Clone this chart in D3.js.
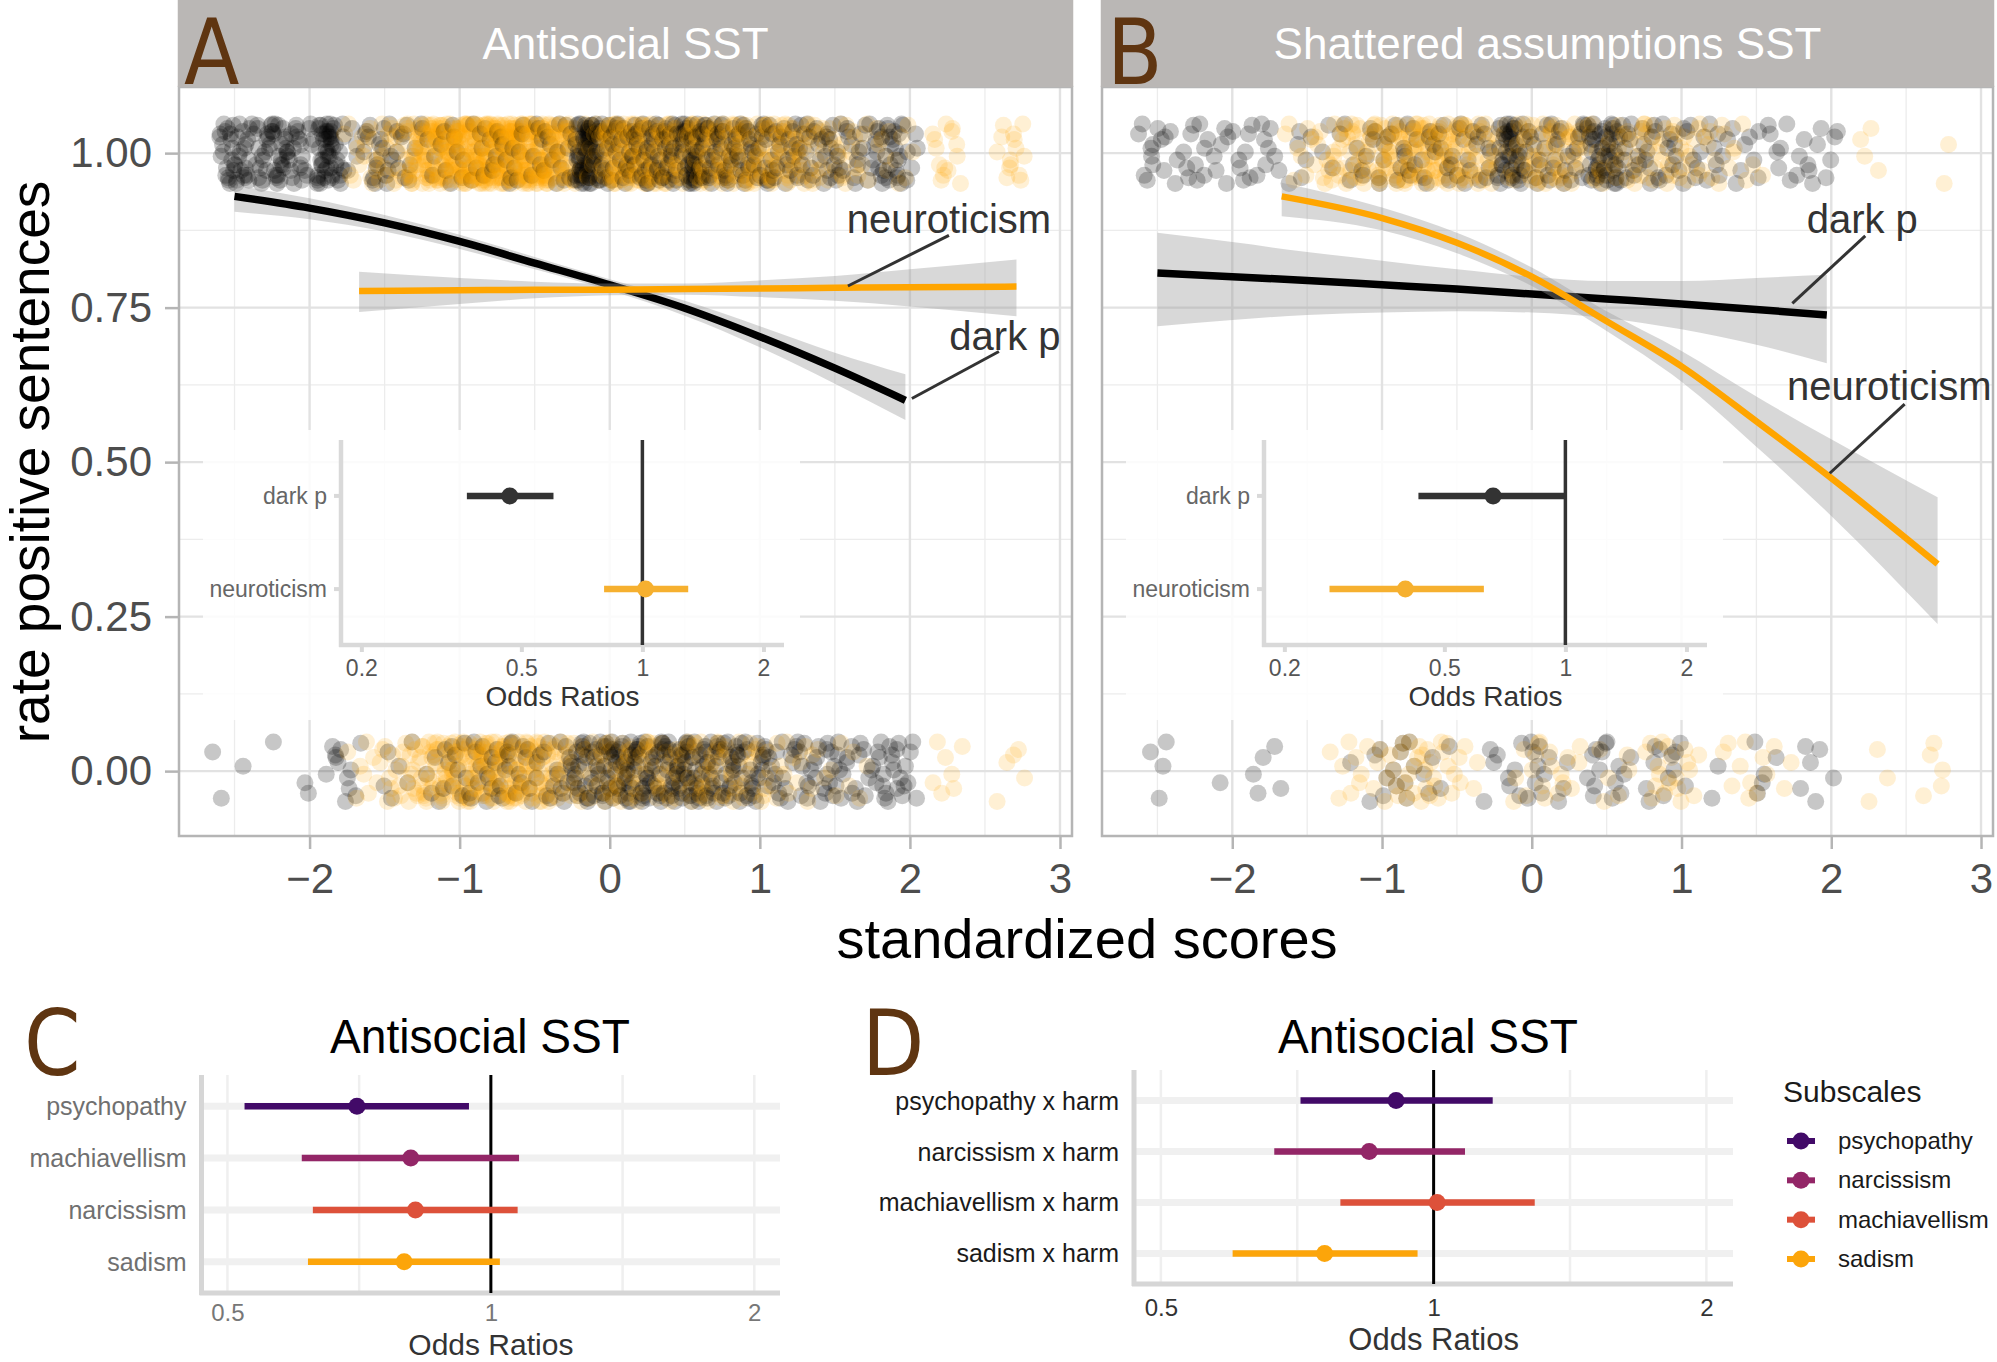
<!DOCTYPE html>
<html>
<head>
<meta charset="utf-8">
<script src="https://cdn.jsdelivr.net/npm/d3@7"></script>
<style>
  body { margin: 0; background: #fff; }
  svg { display: block; }
</style>
</head>
<body>
<script>
// ---- data ----
const panelTitles = ["Antisocial SST", "Shattered assumptions SST"];
const xTicks = [-2, -1, 0, 1, 2, 3];
const yTicks = [0, 0.25, 0.5, 0.75, 1];

// jittered responses, counted per 0.1 wide bin of the standardized score: [x, count]
const aDarkTop = [[-2.55,20],[-2.45,16],[-2.38,8],[-2.3,16],[-2.2,22],[-2.1,16],[-2.02,8],[-1.9,35],[-1.82,18],[-1.7,4],[-1.6,10],[-1.5,10],[-1.4,8],[-1.3,4],[-1.2,4],[-1.1,4],[-1.0,5],[-0.9,5],[-0.8,6],[-0.7,6],[-0.6,6],[-0.5,6],[-0.4,6],[-0.3,8],[-0.18,45],[-0.1,35],[0.0,14],[0.1,16],[0.2,18],[0.3,20],[0.4,22],[0.52,30],[0.6,26],[0.7,18],[0.8,16],[0.9,16],[1.0,14],[1.1,12],[1.2,12],[1.3,10],[1.4,10],[1.5,12],[1.6,8],[1.7,8],[1.8,14],[1.9,16],[2.0,6]];
const aNeuroTop = [[-1.72,6],[-1.6,10],[-1.5,12],[-1.4,12],[-1.3,30],[-1.2,40],[-1.1,45],[-1.0,50],[-0.9,50],[-0.8,55],[-0.7,55],[-0.6,55],[-0.5,50],[-0.4,45],[-0.3,36],[-0.2,12],[-0.1,12],[0.0,40],[0.1,40],[0.2,38],[0.3,32],[0.4,30],[0.5,22],[0.6,28],[0.7,28],[0.8,28],[0.9,26],[1.0,25],[1.1,25],[1.2,22],[1.3,18],[1.4,12],[1.5,10],[1.6,8],[1.7,6],[1.8,5],[1.9,4],[2.0,3],[2.2,8],[2.3,6],[2.62,6],[2.72,8]];
const aDarkBottom = [[-2.6,2],[-2.48,1],[-2.22,1],[-2.08,1],[-2.0,1],[-1.85,3],[-1.78,6],[-1.7,3],[-1.5,2],[-1.42,2],[-1.3,2],[-1.2,3],[-1.1,5],[-1.0,6],[-0.9,6],[-0.8,8],[-0.7,8],[-0.6,6],[-0.5,6],[-0.4,6],[-0.3,10],[-0.2,18],[-0.1,16],[0.0,20],[0.1,22],[0.2,20],[0.3,18],[0.4,20],[0.5,24],[0.6,18],[0.7,16],[0.8,16],[0.9,14],[1.0,12],[1.1,9],[1.2,7],[1.3,9],[1.4,9],[1.5,10],[1.6,7],[1.7,6],[1.8,9],[1.9,10],[2.0,6]];
const aNeuroBottom = [[-1.7,3],[-1.6,5],[-1.5,6],[-1.4,8],[-1.3,14],[-1.2,18],[-1.1,22],[-1.0,25],[-0.9,28],[-0.8,28],[-0.7,30],[-0.6,28],[-0.5,25],[-0.4,20],[-0.3,14],[-0.2,10],[-0.1,10],[0.0,16],[0.1,16],[0.2,14],[0.3,12],[0.4,12],[0.5,12],[0.6,14],[0.7,14],[0.8,12],[0.9,10],[1.0,8],[1.1,6],[1.2,5],[1.3,4],[1.4,3],[1.5,3],[1.6,2],[1.7,2],[2.2,4],[2.3,3],[2.62,2],[2.72,3]];
const bDarkTop = [[-2.58,6],[-2.5,5],[-2.4,4],[-2.3,5],[-2.2,6],[-2.1,4],[-2.0,4],[-1.9,6],[-1.8,5],[-1.7,3],[-1.6,3],[-1.5,3],[-1.4,2],[-1.3,2],[-1.2,4],[-1.1,5],[-1.0,6],[-0.9,6],[-0.8,7],[-0.7,6],[-0.6,6],[-0.5,6],[-0.4,6],[-0.3,7],[-0.18,24],[-0.1,20],[0.0,8],[0.1,8],[0.2,8],[0.3,9],[0.42,22],[0.52,24],[0.6,10],[0.7,8],[0.8,8],[0.9,7],[1.0,6],[1.1,6],[1.2,5],[1.3,4],[1.4,3],[1.5,4],[1.6,4],[1.7,3],[1.8,4],[1.9,4],[2.0,4]];
const bNeuroTop = [[-1.6,4],[-1.5,5],[-1.4,7],[-1.3,12],[-1.2,15],[-1.1,15],[-1.0,18],[-0.9,21],[-0.8,24],[-0.7,24],[-0.6,24],[-0.5,21],[-0.4,18],[-0.3,15],[-0.2,6],[-0.1,10],[0.0,16],[0.1,16],[0.2,16],[0.3,13],[0.4,8],[0.5,8],[0.6,10],[0.7,10],[0.8,10],[0.9,10],[1.0,8],[1.1,7],[1.2,6],[1.3,4],[1.4,3],[1.5,2],[2.2,2],[2.3,2],[2.8,2]];
const bDarkBottom = [[-2.5,3],[-2.42,1],[-2.13,1],[-1.82,3],[-1.72,2],[-1.18,1],[-1.1,1],[-1.0,4],[-0.9,4],[-0.8,4],[-0.7,3],[-0.6,2],[-0.28,3],[-0.2,2],[-0.1,4],[0.0,5],[0.1,4],[0.2,3],[0.38,3],[0.45,5],[0.55,4],[0.62,3],[0.8,4],[0.9,5],[1.0,3],[1.2,2],[1.52,3],[1.6,2],[1.82,3],[1.9,2],[2.05,1]];
const bNeuroBottom = [[-1.3,3],[-1.2,4],[-1.1,3],[-1.0,4],[-0.9,6],[-0.8,8],[-0.7,8],[-0.6,6],[-0.5,4],[-0.4,3],[-0.1,3],[0.0,4],[0.1,5],[0.2,4],[0.3,3],[0.5,3],[0.6,3],[0.8,5],[0.9,6],[1.0,5],[1.1,3],[1.3,3],[1.4,3],[1.5,3],[1.6,2],[1.7,2],[2.3,2],[2.4,1],[2.62,2],[2.72,3]];

// fixed jitter offsets (x in score units, y in rate units)
const jitterX = [-0.046,0.012,0.037,-0.021,0.049,-0.008,0.026,-0.039,0.003,0.044,-0.030,0.019,-0.013,0.032,-0.048,0.008,-0.025,0.041,-0.004,0.023,-0.035,0.015,-0.017];
const jitterY = [0.031,-0.044,0.008,0.047,-0.019,-0.036,0.022,-0.005,0.040,-0.028,0.014,-0.049,0.035,-0.011,0.026,-0.040,0.002,0.045,-0.024];

// logistic fits: [x, fit, lower, upper]
const aDarkFit = [[-2.5,0.930,0.905,0.948],[-2.0,0.911,0.893,0.927],[-1.5,0.887,0.873,0.900],[-1.0,0.857,0.845,0.868],[-0.5,0.822,0.812,0.832],[0.0,0.787,0.778,0.796],[0.5,0.749,0.737,0.761],[1.0,0.703,0.686,0.720],[1.5,0.652,0.627,0.677],[1.97,0.600,0.568,0.642]];
const aNeuroFit = [[-1.67,0.777,0.743,0.808],[-1.0,0.778,0.756,0.798],[-0.5,0.779,0.765,0.792],[0.0,0.779,0.770,0.789],[0.5,0.780,0.771,0.789],[1.0,0.781,0.767,0.794],[1.5,0.782,0.761,0.801],[2.0,0.783,0.752,0.812],[2.71,0.784,0.736,0.828]];
const bDarkFit = [[-2.5,0.806,0.720,0.871],[-2.0,0.800,0.730,0.856],[-1.5,0.794,0.738,0.840],[-1.0,0.787,0.742,0.826],[-0.5,0.780,0.744,0.812],[0.0,0.772,0.742,0.800],[0.5,0.764,0.733,0.793],[1.0,0.756,0.715,0.793],[1.5,0.747,0.690,0.798],[1.97,0.738,0.660,0.803]];
const bNeuroFit = [[-1.67,0.930,0.898,0.952],[-1.0,0.895,0.875,0.912],[-0.5,0.855,0.838,0.871],[0.0,0.800,0.785,0.815],[0.5,0.728,0.712,0.744],[1.0,0.655,0.630,0.680],[1.5,0.566,0.525,0.606],[2.0,0.474,0.413,0.537],[2.71,0.335,0.238,0.443]];

// direct labels: text anchor and leader segment, in data units
const aLabels = [
  {text: "neuroticism", x: 2.26, y: 0.870, from: [2.26, 0.867], to: [1.587, 0.785]},
  {text: "dark p", x: 2.633, y: 0.681, from: [2.593, 0.679], to: [2.013, 0.603]}
];
const bLabels = [
  {text: "dark p", x: 2.207, y: 0.870, from: [2.227, 0.866], to: [1.74, 0.757]},
  {text: "neuroticism", x: 2.387, y: 0.600, from: [2.49, 0.594], to: [1.99, 0.482]}
];

// inset odds ratios
const insetTerms = ["dark p", "neuroticism"];
const aInsetOR = [0.468, 1.018];
const aInsetLow = [0.366, 0.803];
const aInsetHigh = [0.601, 1.30];
const bInsetOR = [0.661, 0.400];
const bInsetLow = [0.431, 0.259];
const bInsetHigh = [0.995, 0.627];
const orTicks = [0.2, 0.5, 1, 2];

// subscale odds ratios
const cTerms = ["psychopathy", "machiavellism", "narcissism", "sadism"];
const cOR = [0.703, 0.810, 0.820, 0.796];
const cLow = [0.523, 0.608, 0.626, 0.618];
const cHigh = [0.944, 1.077, 1.073, 1.024];
const dTerms = ["psychopathy x harm", "narcissism x harm", "machiavellism x harm", "sadism x harm"];
const dOR = [0.909, 0.849, 1.009, 0.758];
const dLow = [0.713, 0.667, 0.789, 0.600];
const dHigh = [1.162, 1.083, 1.293, 0.960];
const subscales = ["psychopathy", "narcissism", "machiavellism", "sadism"];
const rowColors = ["#420A68", "#932667", "#DD513A", "#FCA50A"];
const subTicks = [0.5, 1, 2];

// ---- drawing ----
const brown = "#5f3511";
const letterFont = "'DejaVu Sans Condensed', 'DejaVu Sans', sans-serif";
const svg = d3.select("body").append("svg")
  .attr("width", 1997).attr("height", 1362)
  .style("font-family", "'Liberation Sans', Arial, sans-serif");

function expand(bins, base, col) {
  let pts = [], k = 0;
  bins.forEach(([cx, n]) => {
    for (let i = 0; i < n; i++, k++) {
      pts.push({x: cx + jitterX[k % jitterX.length], y: base + jitterY[k % jitterY.length], col: col});
    }
  });
  return pts;
}

function topPanel(p) {
  let g = svg.append("g");
  let x = d3.scaleLinear().domain([-2.87, 3.08]).range([p.left, p.right]);
  let y = d3.scaleLinear().domain([-0.105, 1.107]).range([836, 87]);

  // grid
  g.selectAll(null).data(d3.range(-2.5, 3, 1)).join("line")
    .attr("x1", d => x(d)).attr("x2", d => x(d)).attr("y1", 87).attr("y2", 836)
    .attr("stroke", "#ececec").attr("stroke-width", 1.3);
  g.selectAll(null).data(d3.range(0.125, 1, 0.25)).join("line")
    .attr("x1", p.left).attr("x2", p.right).attr("y1", d => y(d)).attr("y2", d => y(d))
    .attr("stroke", "#ececec").attr("stroke-width", 1.3);
  g.selectAll(null).data(xTicks).join("line")
    .attr("x1", d => x(d)).attr("x2", d => x(d)).attr("y1", 87).attr("y2", 836)
    .attr("stroke", "#e2e2e2").attr("stroke-width", 2.4);
  g.selectAll(null).data(yTicks).join("line")
    .attr("x1", p.left).attr("x2", p.right).attr("y1", d => y(d)).attr("y2", d => y(d))
    .attr("stroke", "#e2e2e2").attr("stroke-width", 2.4);

  // jittered points, both traits mixed and drawn left to right
  let pts = expand(p.darkTop, 1, "dark").concat(expand(p.darkBottom, 0, "dark"),
    expand(p.neuroTop, 1, "neuro"), expand(p.neuroBottom, 0, "neuro"))
    .sort((a, b) => a.x - b.x);
  g.selectAll(null).data(pts).join("circle")
    .attr("cx", d => x(d.x)).attr("cy", d => y(d.y)).attr("r", 8.5)
    .attr("fill", d => d.col === "dark" ? "#000" : "#FFA500")
    .attr("fill-opacity", d => d.col === "dark" ? 0.22 : 0.17);

  // fits with confidence bands
  let area = d3.area().curve(d3.curveMonotoneX)
    .x(d => x(d[0])).y0(d => y(d[2])).y1(d => y(d[3]));
  let line = d3.line().curve(d3.curveMonotoneX)
    .x(d => x(d[0])).y(d => y(d[1]));
  [[p.darkFit, "#000", 7.5], [p.neuroFit, "#FFA500", 6.5]].forEach(([fit, col, w]) => {
    g.append("path").datum(fit).attr("d", area)
      .attr("fill", "#999").attr("fill-opacity", 0.38);
    g.append("path").datum(fit).attr("d", line)
      .attr("fill", "none").attr("stroke", col).attr("stroke-width", w);
  });

  // direct labels
  p.labels.forEach(l => {
    g.append("line")
      .attr("x1", x(l.from[0])).attr("y1", y(l.from[1]))
      .attr("x2", x(l.to[0])).attr("y2", y(l.to[1]))
      .attr("stroke", "#333").attr("stroke-width", 3);
    g.append("text").attr("x", x(l.x)).attr("y", y(l.y))
      .attr("text-anchor", "middle").attr("font-size", 40).attr("fill", "#333")
      .text(l.text);
  });

  inset(g, p);

  // border and strip
  g.append("rect").attr("x", p.left).attr("y", 87)
    .attr("width", p.right - p.left).attr("height", 836 - 87)
    .attr("fill", "none").attr("stroke", "#b5b5b5").attr("stroke-width", 2.5);
  g.append("rect").attr("x", p.left - 1.25).attr("y", 0)
    .attr("width", p.right - p.left + 2.5).attr("height", 87)
    .attr("fill", "#bab7b5");
  g.append("text").attr("x", (p.left + p.right) / 2).attr("y", 59)
    .attr("text-anchor", "middle").attr("font-size", 44).attr("fill", "#fff")
    .text(p.title);
  g.append("text").attr("x", p.left + 5).attr("y", 84)
    .attr("font-family", letterFont).attr("font-stretch", "condensed")
    .attr("font-size", 90).attr("fill", brown).text(p.letter);

  // axes (only the left panel carries the y axis)
  let xa = g.append("g").attr("transform", "translate(0,836)")
    .call(d3.axisBottom(x).tickValues(xTicks).tickFormat(d3.format("d"))
      .tickSize(13).tickPadding(14));
  let axes = [xa];
  if (p.showY) {
    axes.push(g.append("g").attr("transform", `translate(${p.left},0)`)
      .call(d3.axisLeft(y).tickValues(yTicks).tickFormat(d3.format(".2f"))
        .tickSize(14).tickPadding(13)));
  }
  axes.forEach(a => {
    a.select(".domain").remove();
    a.selectAll("line").attr("stroke", "#b5b5b5").attr("stroke-width", 2.5);
    a.selectAll("text").attr("font-size", 42).attr("fill", "#4d4d4d")
      .attr("font-family", "'Liberation Sans', Arial, sans-serif");
  });
}

function inset(g, p) {
  let ax = p.left + 162;
  let ix = d3.scaleLog().domain([0.178, 2.25]).range([ax, ax + 443]);
  let iy = d3.scalePoint().domain(insetTerms).range([440, 645]).padding(0.6);
  let h = g.append("g");
  h.append("rect").attr("x", p.left + 24).attr("y", 430).attr("width", 597).attr("height", 290)
    .attr("fill", "#fff").attr("fill-opacity", 0.85);
  h.append("line").attr("x1", ax).attr("x2", ax).attr("y1", 440).attr("y2", 647)
    .attr("stroke", "#d9d9d9").attr("stroke-width", 4.5);
  h.append("line").attr("x1", ax - 2).attr("x2", ax + 443).attr("y1", 645).attr("y2", 645)
    .attr("stroke", "#d9d9d9").attr("stroke-width", 4.5);
  h.selectAll(null).data(insetTerms).join("line")
    .attr("x1", ax - 7).attr("x2", ax).attr("y1", d => iy(d)).attr("y2", d => iy(d))
    .attr("stroke", "#d9d9d9").attr("stroke-width", 4);
  h.selectAll(null).data(insetTerms).join("text")
    .attr("x", ax - 14).attr("y", d => iy(d) + 8).attr("text-anchor", "end")
    .attr("font-size", 23).attr("fill", "#666").text(d => d);
  let xa = h.append("g").attr("transform", "translate(0,645)")
    .call(d3.axisBottom(ix).tickValues(orTicks).tickFormat(d => String(d))
      .tickSize(7).tickPadding(8));
  xa.select(".domain").remove();
  xa.selectAll("line").attr("stroke", "#d9d9d9").attr("stroke-width", 4);
  xa.selectAll("text").attr("font-size", 23).attr("fill", "#555")
    .attr("font-family", "'Liberation Sans', Arial, sans-serif");
  h.append("text").attr("x", (ax + ax + 443) / 2).attr("y", 706)
    .attr("text-anchor", "middle").attr("font-size", 28).attr("fill", "#333")
    .text("Odds Ratios");
  h.append("line").attr("x1", ix(1)).attr("x2", ix(1)).attr("y1", 440).attr("y2", 645)
    .attr("stroke", "#333").attr("stroke-width", 3.5);
  let cols = ["#333333", "#F6B02F"];
  insetTerms.forEach((t, i) => {
    h.append("line").attr("x1", ix(p.insetLow[i])).attr("x2", ix(p.insetHigh[i]))
      .attr("y1", iy(t)).attr("y2", iy(t))
      .attr("stroke", cols[i]).attr("stroke-width", 6.5);
    h.append("circle").attr("cx", ix(p.insetOR[i])).attr("cy", iy(t)).attr("r", 8.5)
      .attr("fill", cols[i]);
  });
}

topPanel({letter: "A", title: panelTitles[0], left: 179, right: 1072, showY: true,
  darkTop: aDarkTop, darkBottom: aDarkBottom, neuroTop: aNeuroTop, neuroBottom: aNeuroBottom,
  darkFit: aDarkFit, neuroFit: aNeuroFit, labels: aLabels,
  insetOR: aInsetOR, insetLow: aInsetLow, insetHigh: aInsetHigh});
topPanel({letter: "B", title: panelTitles[1], left: 1102, right: 1993, showY: false,
  darkTop: bDarkTop, darkBottom: bDarkBottom, neuroTop: bNeuroTop, neuroBottom: bNeuroBottom,
  darkFit: bDarkFit, neuroFit: bNeuroFit, labels: bLabels,
  insetOR: bInsetOR, insetLow: bInsetLow, insetHigh: bInsetHigh});

// shared axis titles
svg.append("text").attr("transform", "translate(49,462) rotate(-90)")
  .attr("text-anchor", "middle").attr("font-size", 55).attr("fill", "#000")
  .text("rate positive sentences");
svg.append("text").attr("x", 1087).attr("y", 958)
  .attr("text-anchor", "middle").attr("font-size", 56).attr("fill", "#000")
  .text("standardized scores");

// ---- lower odds-ratio panels ----
function orPanel(p) {
  let g = svg.append("g");
  let x = d3.scaleLog().domain([0.467, 2.14]).range([p.left, p.right]);
  let y = d3.scalePoint().domain(p.terms).range([p.top, p.bottom]).padding(0.6);

  g.selectAll(null).data([0.5, Math.SQRT1_2, 1, Math.SQRT2, 2]).join("line")
    .attr("x1", d => x(d)).attr("x2", d => x(d)).attr("y1", p.top).attr("y2", p.bottom)
    .attr("stroke", "#efefef").attr("stroke-width", 2.5);
  g.selectAll(null).data(p.terms).join("line")
    .attr("x1", p.left).attr("x2", p.right).attr("y1", d => y(d)).attr("y2", d => y(d))
    .attr("stroke", "#f0f0f0").attr("stroke-width", 7);
  g.append("line").attr("x1", p.left).attr("x2", p.left).attr("y1", p.top).attr("y2", p.bottom + 2)
    .attr("stroke", "#d6d6d6").attr("stroke-width", 5);
  g.append("line").attr("x1", p.left - 2).attr("x2", p.right).attr("y1", p.bottom).attr("y2", p.bottom)
    .attr("stroke", "#d6d6d6").attr("stroke-width", 5);
  g.append("line").attr("x1", x(1)).attr("x2", x(1)).attr("y1", p.top).attr("y2", p.bottom)
    .attr("stroke", "#000").attr("stroke-width", 3);

  p.terms.forEach((t, i) => {
    g.append("line").attr("x1", x(p.low[i])).attr("x2", x(p.high[i]))
      .attr("y1", y(t)).attr("y2", y(t))
      .attr("stroke", rowColors[i]).attr("stroke-width", 6.5);
    g.append("circle").attr("cx", x(p.or[i])).attr("cy", y(t)).attr("r", 8.5)
      .attr("fill", rowColors[i]);
  });

  g.selectAll(null).data(p.terms).join("text")
    .attr("x", p.left - 15).attr("y", d => y(d) + 9).attr("text-anchor", "end")
    .attr("font-size", 25).attr("fill", p.labelColor).text(d => d);

  let xa = g.append("g").attr("transform", `translate(0,${p.bottom})`)
    .call(d3.axisBottom(x).tickValues(subTicks).tickFormat(d => String(d))
      .tickSize(0).tickPadding(p.tickPad));
  xa.select(".domain").remove();
  xa.selectAll("text").attr("font-size", 24).attr("fill", p.tickColor)
    .attr("font-family", "'Liberation Sans', Arial, sans-serif");

  g.append("text").attr("x", x(1)).attr("y", p.oddsY)
    .attr("text-anchor", "middle").attr("font-size", p.oddsSize).attr("fill", "#333")
    .text("Odds Ratios");
  g.append("text").attr("x", p.titleX).attr("y", 1053)
    .attr("text-anchor", "middle").attr("font-size", 48).attr("fill", "#000")
    .attr("textLength", 300).attr("lengthAdjust", "spacingAndGlyphs")
    .text("Antisocial SST");
  g.append("text").attr("x", p.letterX).attr("y", 1075)
    .attr("font-family", letterFont).attr("font-stretch", "condensed")
    .attr("font-size", 90).attr("fill", brown).text(p.letter);
}

orPanel({letter: "C", letterX: 24, titleX: 480, left: 201.5, right: 780, top: 1075, bottom: 1293,
  terms: cTerms, or: cOR, low: cLow, high: cHigh,
  labelColor: "#707070", tickColor: "#777", tickPad: 11, oddsY: 1355, oddsSize: 30});
orPanel({letter: "D", letterX: 862, titleX: 1428, left: 1134, right: 1733, top: 1070, bottom: 1284,
  terms: dTerms, or: dOR, low: dLow, high: dHigh,
  labelColor: "#1a1a1a", tickColor: "#333", tickPad: 15, oddsY: 1350, oddsSize: 31});

// legend
let leg = svg.append("g");
leg.append("text").attr("x", 1783).attr("y", 1102)
  .attr("font-size", 30).attr("fill", "#1a1a1a").text("Subscales");
let legY = d3.scalePoint().domain(subscales).range([1141, 1259]);
subscales.forEach((s, i) => {
  leg.append("line").attr("x1", 1787).attr("x2", 1815)
    .attr("y1", legY(s)).attr("y2", legY(s))
    .attr("stroke", rowColors[i]).attr("stroke-width", 6);
  leg.append("circle").attr("cx", 1801).attr("cy", legY(s)).attr("r", 8.5)
    .attr("fill", rowColors[i]);
  leg.append("text").attr("x", 1838).attr("y", legY(s) + 8)
    .attr("font-size", 24).attr("fill", "#1a1a1a").text(s);
});
</script>
</body>
</html>
